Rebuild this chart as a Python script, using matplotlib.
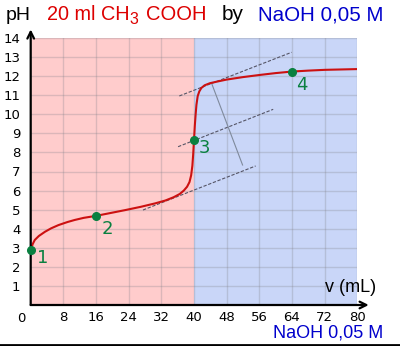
import matplotlib
matplotlib.use("Agg")
import matplotlib.pyplot as plt
from matplotlib.lines import Line2D

plt.rcParams['font.family'] = ['DejaVu Sans']

# titration curve: volume of NaOH added (mL) and measured pH
volume = [0, 0.5, 1.0, 2.0, 3.5, 5, 6.8, 9, 10.8, 13, 15.9, 19, 23, 27, 30.5, 33, 35,
          36.5, 37.5, 38.3, 38.9, 39.3, 39.6, 39.8, 40.0, 40.2, 40.4, 40.6, 40.9, 41.3,
          41.8, 42.6, 43.9, 46, 48, 52, 56, 60, 64, 68, 72, 76, 80]
ph = [2.88, 3.2, 3.41, 3.62, 3.84, 4.02, 4.19, 4.35, 4.46, 4.57, 4.67, 4.80, 4.97, 5.15,
      5.33, 5.48, 5.65, 5.82, 6.0, 6.2, 6.45, 6.8, 7.3, 7.9, 8.65, 9.4, 10.0, 10.5, 10.95,
      11.2, 11.38, 11.52, 11.63, 11.73, 11.82, 11.95, 12.06, 12.16, 12.24, 12.29, 12.33,
      12.35, 12.37]

# marked points 1..4
pt_v = [0, 16, 40, 64]
pt_ph = [2.88, 4.67, 8.65, 12.24]
pt_names = ["1", "2", "3", "4"]
pt_label_pos = [(3.0, 2.46), (18.7, 3.99), (42.6, 8.23), (66.4, 11.54)]

# tangent construction (three parallel lines + the perpendicular)
tangents = [((36.4, 63.9), (10.96, 13.25)),
            ((36.1, 59.4), (8.30, 10.26)),
            ((27.5, 55.1), (4.98, 7.29))]
perp_v = [44.3, 51.9]
perp_ph = [11.63, 7.34]

x_ticks = [8, 16, 24, 32, 40, 48, 56, 64, 72, 80]
y_ticks = list(range(1, 15))

W, H = 400, 346
fig = plt.figure(figsize=(W / 100, H / 100), dpi=100)
ax = fig.add_axes([30.7 / W, (H - 305) / H, (357.3 - 30.7) / W, (305 - 38) / H])
ax.set_xlim(0, 80)
ax.set_ylim(0, 14)

# acid half / base half backgrounds
ax.axvspan(0, 40, color="#ffcccc", lw=0, zorder=0)
ax.axvspan(40, 80, color="#c9d6f8", lw=0, zorder=0)
for xv in x_ticks:
    ax.axvline(xv, color="#808088", alpha=0.28, lw=1, zorder=1)
for yv in y_ticks:
    ax.axhline(yv, color="#808088", alpha=0.28, lw=1, zorder=1)

for tv, tp in tangents:
    ax.plot(tv, tp, color="#555566", lw=0.8, ls=(0, (3, 1.5)), zorder=2)
ax.plot(perp_v, perp_ph, color="#7f8a9c", lw=0.8, zorder=2)

ax.plot(volume, ph, color="#cc1111", lw=1.5, zorder=3)
ax.plot(pt_v, pt_ph, "o", color="#0a8040", ms=5.5, zorder=4, clip_on=False)
for name, (lx, ly) in zip(pt_names, pt_label_pos):
    ax.text(lx, ly, name, color="#0a8040", fontsize=13, ha="center", va="center")

for s in ax.spines.values():
    s.set_visible(False)
ax.set_xticks(x_ticks)
ax.set_xticklabels([str(v) for v in x_ticks], fontsize=9.5)
ax.set_yticks(y_ticks)
ax.set_yticklabels([str(v) for v in y_ticks], fontsize=9.5)
ax.tick_params(axis="y", length=0, pad=7.5)
ax.tick_params(axis="x", length=0, pad=4)
ax.text(-2.2, -0.35, "0", fontsize=9.5, ha="center", va="top")

# axes with arrow heads
arrow = dict(arrowstyle="->", lw=1.6, color="black", mutation_scale=12, shrinkA=0, shrinkB=0)
ax.annotate("", xy=(82.8, 0), xytext=(0, 0), arrowprops=arrow, annotation_clip=False)
ax.annotate("", xy=(0, 14.45), xytext=(0, 0), arrowprops=arrow, annotation_clip=False)

def px(x, y):
    return x / W, 1 - y / H

sans = ["Liberation Sans", "DejaVu Sans"]
fig.text(*px(6, 15), "pH", fontsize=14, family=sans, va="center", ha="left")
fig.text(*px(47, 15), "20 ml CH", fontsize=14.3, family=sans, color="#dd0000", va="center", ha="left")
fig.text(*px(129.5, 19), "3", fontsize=11.5, family=sans, color="#dd0000", va="center", ha="left")
fig.text(*px(146, 15), "COOH", fontsize=14.5, family=sans, color="#dd0000", va="center", ha="left")
fig.text(*px(222, 15), "by", fontsize=15, family=sans, va="center", ha="left")
fig.text(*px(258, 15), "NaOH 0,05 M", fontsize=14.8, family=sans, color="#0000cc", va="center", ha="left")
fig.text(*px(376, 287), "v (mL)", fontsize=13, family=sans, va="center", ha="right")
fig.text(*px(383, 333), "NaOH 0,05 M", fontsize=13, family=sans, color="#0000cc", va="center", ha="right")

fig.add_artist(Line2D([0, 1], [1.5 / H, 1.5 / H], color="black", lw=2, transform=fig.transFigure))

fig.savefig("out.png", dpi=100)
